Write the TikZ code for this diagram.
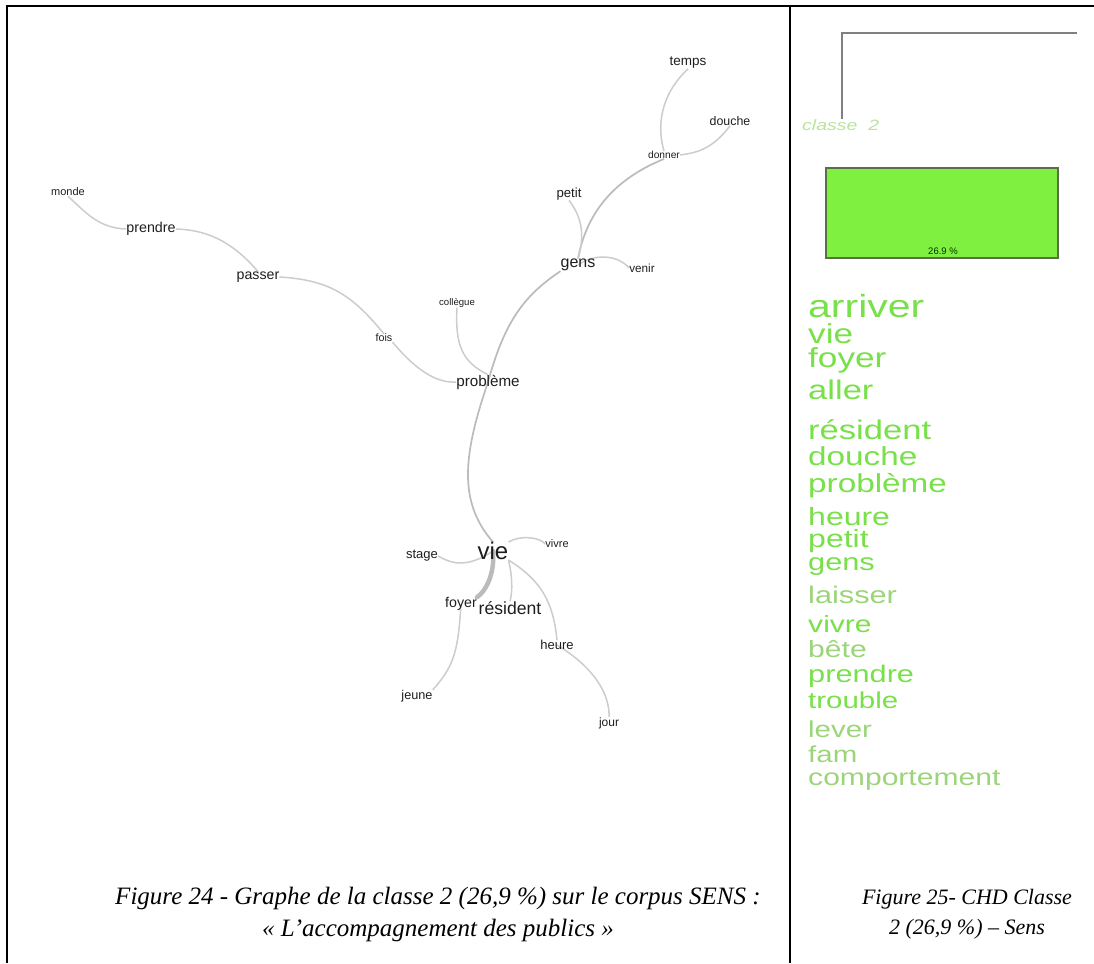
\documentclass[tikz,border=0pt]{standalone}
\usepackage{fontspec}
\setmainfont{Liberation Serif}
\newfontfamily\arialf{Liberation Sans}
\usetikzlibrary{backgrounds}
\newcommand{\setfs}[1]{\fontsize{#1}{#1}\selectfont}
\definecolor{edgegray}{HTML}{CCCCCC}
\definecolor{edgedark}{HTML}{BBBBBB}
\definecolor{wordink}{HTML}{1E1E1E}
\definecolor{listgreen}{HTML}{78E048}
\definecolor{listpale}{HTML}{9CD47A}
\definecolor{boxgreen}{HTML}{80F040}
\definecolor{boxedge}{HTML}{5A6E48}
\definecolor{classgreen}{HTML}{B8E49A}
\tikzset{
  word/.style={inner sep=0pt, text=wordink, font=\arialf},
  link/.style={draw=edgegray, line width=1.5pt},
  linkd/.style={draw=edgedark, line width=1.7pt},
  linkthick/.style={draw=edgedark, line width=4.5pt, line cap=round},
  lword/.style={inner sep=0pt, anchor=base west, text=listgreen, font=\arialf},
  frame/.style={draw=black, line width=2pt},
  capstyle/.style={align=center, inner sep=0pt}
}
\begin{document}
\begin{tikzpicture}[x=1pt, y=-1pt]
\useasboundingbox (0,0) rectangle (1094,963);
% frame
\draw[frame] (1094,6) -- (7,6) -- (7,963);
\draw[frame] (790,6) -- (790,963);

% graph words
\node[word, font=\arialf\setfs{11}] (monde) at (68,192) {monde};
\node[word, font=\arialf\setfs{14.3}] (prendre) at (151,229) {prendre};
\node[word, font=\arialf\setfs{14.2}] (passer) at (258,277) {passer};
\node[word, font=\arialf\setfs{10.7}] (fois) at (384,338) {fois};
\node[word, font=\arialf\setfs{15.2}] (prob) at (488,382) {problème};
\node[word, font=\arialf\setfs{9.6}] (coll) at (457,303) {collègue};
\node[word, font=\arialf\setfs{16}] (gens) at (578,265) {gens};
\node[word, font=\arialf\setfs{11.7}] (venir) at (642,268) {venir};
\node[word, font=\arialf\setfs{13.2}] (petit) at (569,194) {petit};
\node[word, font=\arialf\setfs{10.2}] (donner) at (664,155) {donner};
\node[word, font=\arialf\setfs{13.5}] (temps) at (688,63) {temps};
\node[word, font=\arialf\setfs{12.4}] (douche) at (730,121) {douche};
\node[word, font=\arialf\setfs{24}] (vie) at (493,551) {vie};
\node[word, font=\arialf\setfs{13}] (stage) at (422,556) {stage};
\node[word, font=\arialf\setfs{11}] (vivre) at (557,544) {vivre};
\node[word, font=\arialf\setfs{14.2}] (foyer) at (461,604) {foyer};
\node[word, font=\arialf\setfs{17.6}] (res) at (510,608) {résident};
\node[word, font=\arialf\setfs{13}] (heure) at (557,645) {heure};
\node[word, font=\arialf\setfs{12.7}] (jeune) at (417,696) {jeune};
\node[word, font=\arialf\setfs{12}] (jour) at (609,723) {jour};

% graph edges
\begin{pgfonlayer}{background}
\draw[link] (temps.south) .. controls (665,90) and (655,120) .. (donner.north);
\draw[link] (douche.south) .. controls (712,150) and (695,153) .. (donner.east);
\draw[linkd] (donner.south) .. controls (612,180) and (586,215) .. (gens.north);
\draw[link] (petit.south) .. controls (580,215) and (586,232) .. (gens.north);
\draw[link] (gens.center) .. controls (595,253) and (618,255) .. (venir.west);
\draw[linkd] (gens.south west) .. controls (525,295) and (505,320) .. (prob.center);
\draw[link] (coll.south) .. controls (455,345) and (462,362) .. (prob.north);
\draw[link] (fois.south east) .. controls (420,375) and (440,383) .. (prob.west);
\draw[link] (passer.east) .. controls (330,280) and (352,295) .. (fois.north);
\draw[link] (prendre.east) .. controls (212,230) and (236,246) .. (passer.north);
\draw[link] (monde.south) .. controls (88,215) and (100,228) .. (prendre.west);
\draw[linkd] (prob.center) .. controls (465,450) and (456,500) .. (vie.north);
\draw[link] (vie.center) .. controls (470,566) and (455,566) .. (stage.east);
\draw[link] (vie.north east) .. controls (520,535) and (540,537) .. (vivre.west);
\draw[linkthick] (vie.center) .. controls (495,575) and (485,592) .. (foyer.north east);
\draw[link] (vie.south east) .. controls (512,575) and (513,590) .. (res.north);
\draw[link] (vie.south east) .. controls (540,580) and (553,600) .. (heure.north);
\draw[link] (foyer.center) .. controls (458,650) and (455,665) .. (jeune.north east);
\draw[link] (heure.center) .. controls (595,668) and (610,695) .. (jour.north);
\end{pgfonlayer}

% right panel: dendrogram stub
\coordinate (dtop) at (842,33);
\coordinate (dright) at (1077,33);
\node[inner sep=0pt, anchor=base west, text=classgreen, font=\arialf\itshape\setfs{15}] (classe) at (802,130) {\scalebox{1.3}[1]{classe\ \ 2}};
\draw[draw=gray, line width=2.8pt] (classe.north -| dtop) -- (dtop) -- (dright);
\node[draw=boxedge, fill=boxgreen, line width=1.2pt, minimum width=232pt, minimum height=90pt, inner sep=0pt] (box) at (942,213) {};
\node[inner sep=0pt, font=\arialf\setfs{9.5}, text=black!80!green] (pct) at (943,251) {26.9 \%};

% word list
\node[lword] (w1) at (808,317) {\setfs{32}\scalebox{1.28}[1]{arriver}};
\node[lword] (w2) at (808,343) {\setfs{27.5}\scalebox{1.28}[1]{vie}};
\node[lword] (w3) at (808,367) {\setfs{27.5}\scalebox{1.28}[1]{foyer}};
\node[lword] (w4) at (808,399) {\setfs{27}\scalebox{1.28}[1]{aller}};
\node[lword] (w5) at (808,439) {\setfs{27}\scalebox{1.28}[1]{résident}};
\node[lword] (w6) at (808,465) {\setfs{26}\scalebox{1.28}[1]{douche}};
\node[lword] (w7) at (808,492) {\setfs{26}\scalebox{1.28}[1]{problème}};
\node[lword] (w8) at (808,525) {\setfs{25}\scalebox{1.28}[1]{heure}};
\node[lword] (w9) at (808,547) {\setfs{25}\scalebox{1.28}[1]{petit}};
\node[lword] (w10) at (808,570) {\setfs{24}\scalebox{1.28}[1]{gens}};
\node[lword, text=listpale] (w11) at (808,603) {\setfs{24}\scalebox{1.28}[1]{laisser}};
\node[lword] (w12) at (808,632) {\setfs{23.5}\scalebox{1.28}[1]{vivre}};
\node[lword, text=listpale] (w13) at (808,657) {\setfs{23.5}\scalebox{1.28}[1]{bête}};
\node[lword] (w14) at (808,682) {\setfs{24}\scalebox{1.28}[1]{prendre}};
\node[lword] (w15) at (808,708) {\setfs{23}\scalebox{1.28}[1]{trouble}};
\node[lword, text=listpale] (w16) at (808,737) {\setfs{23}\scalebox{1.28}[1]{lever}};
\node[lword, text=listpale] (w17) at (808,762) {\setfs{23}\scalebox{1.28}[1]{fam}};
\node[lword, text=listpale] (w18) at (808,785) {\setfs{23.5}\scalebox{1.28}[1]{comportement}};

% captions
\node[capstyle, font=\itshape\fontsize{25}{32}\selectfont] (cap1) at (438,914) {Figure 24 - Graphe de la classe 2 (26,9 \%) sur le corpus SENS :\\« L’accompagnement des publics »};
\node[capstyle, font=\itshape\fontsize{22}{30}\selectfont] (cap2) at (967,914) {Figure 25- CHD Classe\\2 (26,9 \%) – Sens};
\end{tikzpicture}
\end{document}
